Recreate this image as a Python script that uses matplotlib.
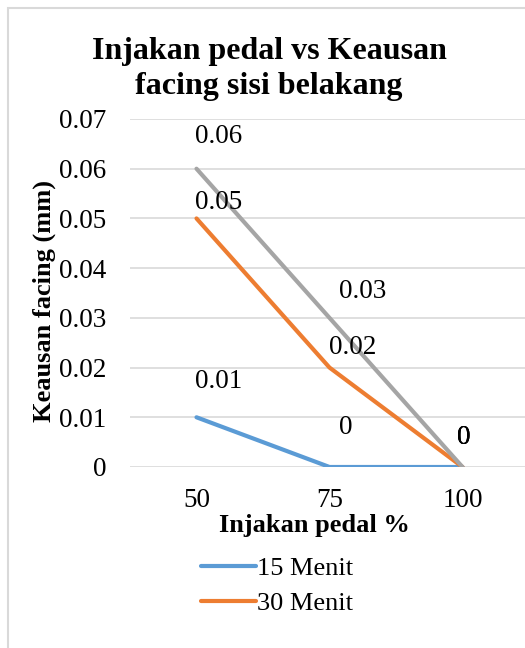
import matplotlib.pyplot as plt
from matplotlib.patches import Rectangle

plt.rcParams['font.family'] = ['Liberation Serif', 'DejaVu Serif']

# data
injakan = ['50', '75', '100']
series_names = ['15 Menit', '30 Menit', '45 Menit']
menit15 = [0.01, 0, 0]
menit30 = [0.05, 0.02, 0]
menit45 = [0.06, 0.03, 0]
colors = ['#5B9BD5', '#ED7D31', '#A5A5A5']

# label offsets in pixels (dx, dy) for each series / point
offsets = [
    [(22, 36), (16, 39), (1, 30)],
    [(22, 16), (23, 20), (1, 30)],
    [(22, 32), (33, 26), (1, 30)],
]

fig = plt.figure(figsize=(5.25, 6.48), dpi=100)
fig.patches.append(Rectangle((8 / 525, -0.1), 1.2, 1 - 8 / 648 + 0.1,
                             transform=fig.transFigure, fill=False,
                             edgecolor='#d9d9d9', linewidth=1.5))

ax = fig.add_axes([130 / 525, 1 - 467 / 648, 399 / 525, 348 / 648])
x = list(range(len(injakan)))
data = [menit15, menit30, menit45]
lines = []
for vals, name, c in zip(data, series_names, colors):
    ln, = ax.plot(x, vals, color=c, linewidth=3, label=name, solid_capstyle='round')
    lines.append(ln)

# gray on top like the reference
lines[2].set_zorder(3)
lines[1].set_zorder(2.5)

for vals, offs in zip(data, offsets):
    for xi, v, (dx, dy) in zip(x, vals, offs):
        txt = '0' if v == 0 else f'{v:g}'
        ax.annotate(txt, (xi, v), xytext=(dx * 0.72, dy * 0.72),
                    textcoords='offset points', ha='center', va='center',
                    fontsize=19.5)

ax.set_xlim(-0.5, 2.5)
ax.set_ylim(0, 0.07)
ax.set_yticks([0, 0.01, 0.02, 0.03, 0.04, 0.05, 0.06, 0.07])
ax.set_yticklabels(['0', '0.01', '0.02', '0.03', '0.04', '0.05', '0.06', '0.07'])
ax.set_xticks(x)
ax.set_xticklabels(injakan)
ax.tick_params(axis='both', length=0, labelsize=19.5)
ax.tick_params(axis='y', pad=17)
ax.tick_params(axis='x', pad=15)
ax.grid(axis='y', color='#d9d9d9', linewidth=1.2)
ax.set_axisbelow(True)
for s in ax.spines.values():
    s.set_visible(False)

ax.set_xlabel('Injakan pedal %', fontsize=19, fontweight='bold')
ax.xaxis.set_label_coords((314 - 130) / 399, -(514 - 467) / 348)
ax.set_ylabel('Keausan facing (mm)', fontsize=19, fontweight='bold')
ax.yaxis.set_label_coords(-(130 - 56) / 399, (467 - 301) / 348)

fig.text(269 / 525, 1 - 69 / 648, 'Injakan pedal vs Keausan\nfacing sisi belakang',
         ha='center', va='center', fontsize=23, fontweight='bold', linespacing=1.25)

fig.legend(handles=lines[:2], loc='upper left', bbox_to_anchor=(190 / 525, 1 - 546 / 648),
           frameon=False, fontsize=19, handlelength=2.1, handletextpad=0.05,
           labelspacing=0.45, borderaxespad=0)

fig.savefig('out.png', dpi=100)
